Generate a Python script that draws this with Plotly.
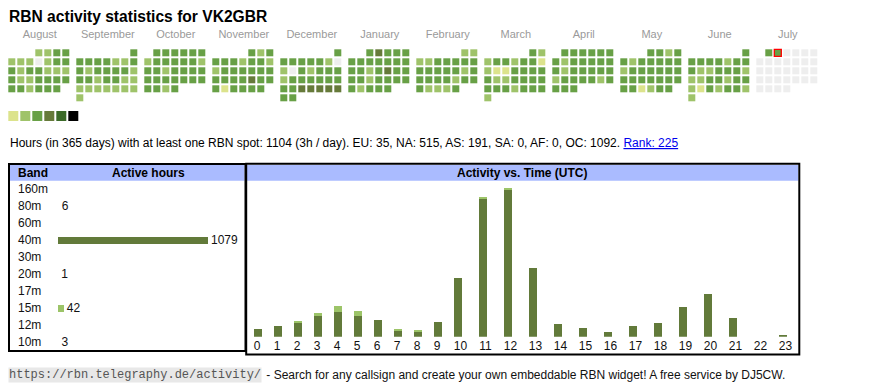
import datetime
import plotly.graph_objects as go

# The page body has an 8px margin, so the figure is drawn from page pixel 8 onwards.
PAGE_W, PAGE_H, OFF = 870, 390, 8
W, H = PAGE_W - OFF, PAGE_H - OFF
FONT = "Liberation Sans"

# ---------------- data ----------------
title_text = "RBN activity statistics for VK2GBR"

month_names = ["August", "September", "October", "November", "December", "January",
               "February", "March", "April", "May", "June", "July"]
month_years = [2024, 2024, 2024, 2024, 2024, 2025, 2025, 2025, 2025, 2025, 2025, 2025]
month_numbers = [8, 9, 10, 11, 12, 1, 2, 3, 4, 5, 6, 7]

# activity level per day (0 = none, 1..5 = increasing, -1 = future)
aug = [2, 2, 3, 3, 2, 2, 2, 0, 2, 3, 3, 3, 2, 3, 3, 2, 2, 2, 3, 2, 2, 3, 3, 3, 3, 3, 3, 2, 3, 3, 3]
sep = [3, 3, 3, 3, 3, 2, 2, 3, 3, 2, 3, 3, 3, 3, 2, 3, 3, 2, 3, 3, 2, 2, 2, 2, 2, 2, 2, 2, 2, 2]
oct_ = [3, 3, 3, 3, 3, 3, 2, 3, 3, 3, 3, 3, 2, 3, 3, 2, 3, 3, 3, 3, 3, 3, 3, 3, 3, 3, 3, 3, 3, 2, 3]
nov = [3, 2, 3, 3, 3, 3, 2, 3, 3, 2, 2, 3, 3, 3, 3, 3, 3, 3, 3, 3, 3, 4, 3, 3, 3, 1, 3, 3, 3, 3]
dec = [3, 3, 3, 3, 3, 3, 2, 0, 2, 0, 3, 2, 3, 3, 3, 2, 3, 3, 3, 3, 3, 3, 3, 3, 4, 4, 4, 4, 4, 3, 3]
jan = [3, 4, 3, 3, 3, 3, 3, 3, 3, 3, 3, 3, 3, 3, 2, 3, 4, 3, 3, 3, 3, 2, 3, 3, 3, 3, 3, 2, 3, 3, 3]
feb = [2, 2, 2, 2, 3, 3, 3, 3, 3, 3, 3, 3, 3, 3, 2, 3, 3, 3, 3, 3, 2, 3, 3, 3, 2, 2, 2, 3]
mar = [3, 2, 2, 3, 3, 2, 3, 3, 1, 2, 1, 1, 3, 3, 3, 3, 3, 2, 2, 3, 3, 3, 3, 3, 3, 3, 2, 3, 3, 3, 2]
apr = [3, 3, 3, 3, 3, 3, 3, 2, 3, 3, 3, 3, 3, 3, 2, 3, 3, 3, 3, 3, 2, 3, 3, 3, 3, 2, 3, 3, 3, 3]
may = [3, 3, 2, 3, 3, 2, 3, 3, 3, 3, 3, 2, 3, 3, 3, 3, 3, 3, 3, 3, 3, 3, 3, 3, 3, 3, 3, 1, 2, 3, 3]
jun = [3, 3, 3, 3, 3, 2, 3, 3, 3, 2, 2, 3, 3, 3, 2, 2, 2, 3, 3, 2, 3, 3, 2, 1, 3, 2, 3, 3, 2, 2]
jul = [3, 3] + [-1] * 29
month_levels = [aug, sep, oct_, nov, dec, jan, feb, mar, apr, may, jun, jul]
today_month_index = 11
today_day = 2

legend_levels = [1, 2, 3, 4, 5, 6]
level_colors = {-1: "#eeeeee", 0: "#eeeeee", 1: "#dce38c", 2: "#9fc36a", 3: "#68a046",
                4: "#667a3a", 5: "#3b6a28", 6: "#000000"}

summary_text = ("Hours (in 365 days) with at least one RBN spot: 1104 (3h / day). "
                "EU: 35, NA: 515, AS: 191, SA: 0, AF: 0, OC: 1092. ")
rank_text = "Rank: 225"

bands = ["160m", "80m", "60m", "40m", "30m", "20m", "17m", "15m", "12m", "10m"]
band_hours = [0, 6, 0, 1079, 0, 1, 0, 42, 0, 3]
# bars under one pixel wide are not visible in the widget
band_colors = ["rgba(0,0,0,0)", "rgba(0,0,0,0)", "rgba(0,0,0,0)", "#627a3a", "rgba(0,0,0,0)",
               "rgba(0,0,0,0)", "rgba(0,0,0,0)", "#9cc468", "rgba(0,0,0,0)", "rgba(0,0,0,0)"]

hours = list(range(24))
act_40m = [12, 17, 23, 32, 39, 33, 26, 10, 8, 23, 92, 216, 230, 108, 20, 14, 8, 17, 22, 47, 67, 30, 0, 3]
act_15m = [0, 0, 2, 5, 9, 8, 0, 2, 2, 0, 0, 3, 3, 0, 0, 0, 0, 0, 0, 0, 0, 0, 0, 0]

footer_url = "https://rbn.telegraphy.de/activity/"
footer_text = " - Search for any callsign and create your own embeddable RBN widget! A free service by DJ5CW."

# ---------------- layout constants (page pixels) ----------------
CAL_X0, CAL_Y0 = 8.3, 49.3
CELL, CELL_PITCH, MONTH_PITCH = 7, 9, 68


def px(p):
    return (p - OFF) / W


def py(p):
    return 1 - (p - OFF) / H


fig = go.Figure()

# calendar cells
cx, cy, cc = [], [], []
tx = ty = None
for m, days in enumerate(month_levels):
    wd = datetime.date(month_years[m], month_numbers[m], 1).weekday()
    for d, lvl in enumerate(days):
        idx = wd + d
        col, row = idx % 7, idx // 7
        x = CAL_X0 + m * MONTH_PITCH + col * CELL_PITCH + CELL / 2
        y = CAL_Y0 + row * CELL_PITCH + CELL / 2
        cx.append(x); cy.append(y); cc.append(level_colors[lvl])
        if m == today_month_index and d + 1 == today_day:
            tx, ty = x, y

fig.add_trace(go.Scatter(x=cx, y=cy, mode="markers", xaxis="x", yaxis="y",
                         marker=dict(symbol="square", size=CELL, color=cc, line=dict(width=0)),
                         hoverinfo="skip", showlegend=False))
fig.add_trace(go.Scatter(x=[tx], y=[ty], mode="markers", xaxis="x", yaxis="y",
                         marker=dict(symbol="square", size=CELL, color=level_colors[3],
                                     line=dict(width=1.3, color="#ff0000")),
                         hoverinfo="skip", showlegend=False))

# month labels
fig.add_trace(go.Scatter(x=[CAL_X0 + m * MONTH_PITCH + 31.5 for m in range(12)],
                         y=[35] * 12, mode="text", text=month_names, xaxis="x", yaxis="y",
                         textfont=dict(family=FONT, size=11, color="#9a9a9a"),
                         hoverinfo="skip", showlegend=False))

# legend squares
fig.add_trace(go.Scatter(x=[13.3 + 12 * i for i in range(len(legend_levels))],
                         y=[116] * len(legend_levels), mode="markers", xaxis="x", yaxis="y",
                         marker=dict(symbol="square", size=10,
                                     color=[level_colors[l] for l in legend_levels], line=dict(width=0)),
                         hoverinfo="skip", showlegend=False))

# band bars
fig.add_trace(go.Bar(y=bands, x=band_hours, orientation="h", xaxis="x2", yaxis="y2",
                     marker=dict(color=band_colors, line=dict(width=0)), width=0.41,
                     text=[str(v) if v else "" for v in band_hours], textposition="outside",
                     constraintext="none",
                     textfont=dict(family=FONT, size=12, color="#111"), cliponaxis=False,
                     hoverinfo="skip", showlegend=False))

# activity vs time bars (column widths depend on label width)
col_w = [20 if h < 10 else 25 for h in hours]
bar_left = []
pos = 254
for w in col_w:
    bar_left.append(pos)
    pos += w
bar_x = [b + 4 for b in bar_left]
tick_x = [b + (-1 if h < 10 else 2.5) for b, h in zip(bar_x, hours)]

fig.add_trace(go.Bar(x=bar_x, y=act_40m, xaxis="x3", yaxis="y3", width=8,
                     marker=dict(color=band_colors[3], line=dict(width=0)),
                     hoverinfo="skip", showlegend=False))
fig.add_trace(go.Bar(x=bar_x, y=act_15m, xaxis="x3", yaxis="y3", width=8,
                     marker=dict(color=band_colors[7], line=dict(width=0)),
                     hoverinfo="skip", showlegend=False))

shapes = [
    dict(type="rect", xref="x", yref="y", x0=10, x1=244.5, y0=165, y1=180.7,
         fillcolor="#aabbff", line=dict(width=0), layer="below"),
    dict(type="rect", xref="x", yref="y", x0=247, x1=798.3, y0=165, y1=180.7,
         fillcolor="#aabbff", line=dict(width=0), layer="below"),
    dict(type="rect", xref="x", yref="y", x0=9, x1=245.5, y0=164, y1=351,
         line=dict(width=2, color="#000")),
    dict(type="rect", xref="x", yref="y", x0=246.2, x1=799.3, y0=163.8, y1=354.5,
         line=dict(width=2, color="#000")),
]

ann = []


def add_text(x, y, text, size=12, bold=False, anchor="left", color="#000", family=FONT, **kw):
    ann.append(dict(x=px(x), y=py(y), xref="paper", yref="paper",
                    text=f"<b>{text}</b>" if bold else text,
                    showarrow=False, xanchor=anchor, yanchor="middle",
                    font=dict(family=family, size=size, color=color), **kw))


add_text(7, 16, title_text, size=15.6, bold=True)
add_text(8, 142.5, summary_text +
         f"<span style='color:#0000ee;text-decoration:underline'>{rank_text}</span>", size=12)
add_text(16, 173, "Band", bold=True)
add_text(148, 173, "Active hours", bold=True, anchor="center")
add_text(522, 173, "Activity vs. Time (UTC)", bold=True, anchor="center")
for b in bands:
    ann.append(dict(x=px(16), y=b, xref="paper", yref="y2", text=b, showarrow=False,
                    xanchor="left", yanchor="middle", font=dict(family=FONT, size=12, color="#111")))
add_text(8, 375, footer_url, size=12, family="Liberation Mono", color="#555",
         bgcolor="#e8e8e8", borderpad=0)
add_text(261, 375, footer_text, size=12, color="#111")

band_dom = [py(350.8), py(180.8)]
act_dom = [py(336.7), py(181)]

fig.update_layout(
    width=W, height=H, margin=dict(l=0, r=0, t=0, b=0),
    paper_bgcolor="white", plot_bgcolor="rgba(0,0,0,0)",
    barmode="stack", showlegend=False,
    shapes=shapes, annotations=ann,
    xaxis=dict(domain=[0, 1], range=[OFF, PAGE_W], visible=False, fixedrange=True),
    yaxis=dict(domain=[0, 1], range=[PAGE_H, OFF], visible=False, fixedrange=True),
    xaxis2=dict(domain=[px(58), px(240)], range=[0, 1079 * 182 / 150], visible=False, anchor="y2"),
    yaxis2=dict(domain=band_dom, range=[9.5, -0.5], type="category", categoryarray=bands,
                visible=False, anchor="x2"),
    xaxis3=dict(domain=[px(248), px(798)], range=[248, 798], anchor="y3",
                tickmode="array", tickvals=tick_x, ticktext=[str(h) for h in hours],
                showgrid=False, zeroline=False, showline=False, ticks="",
                tickfont=dict(family=FONT, size=12, color="#111")),
    yaxis3=dict(domain=act_dom, range=[0, (336.7 - 181) * 1.566], visible=False, anchor="x3"),
)

fig.write_html("out.html")
